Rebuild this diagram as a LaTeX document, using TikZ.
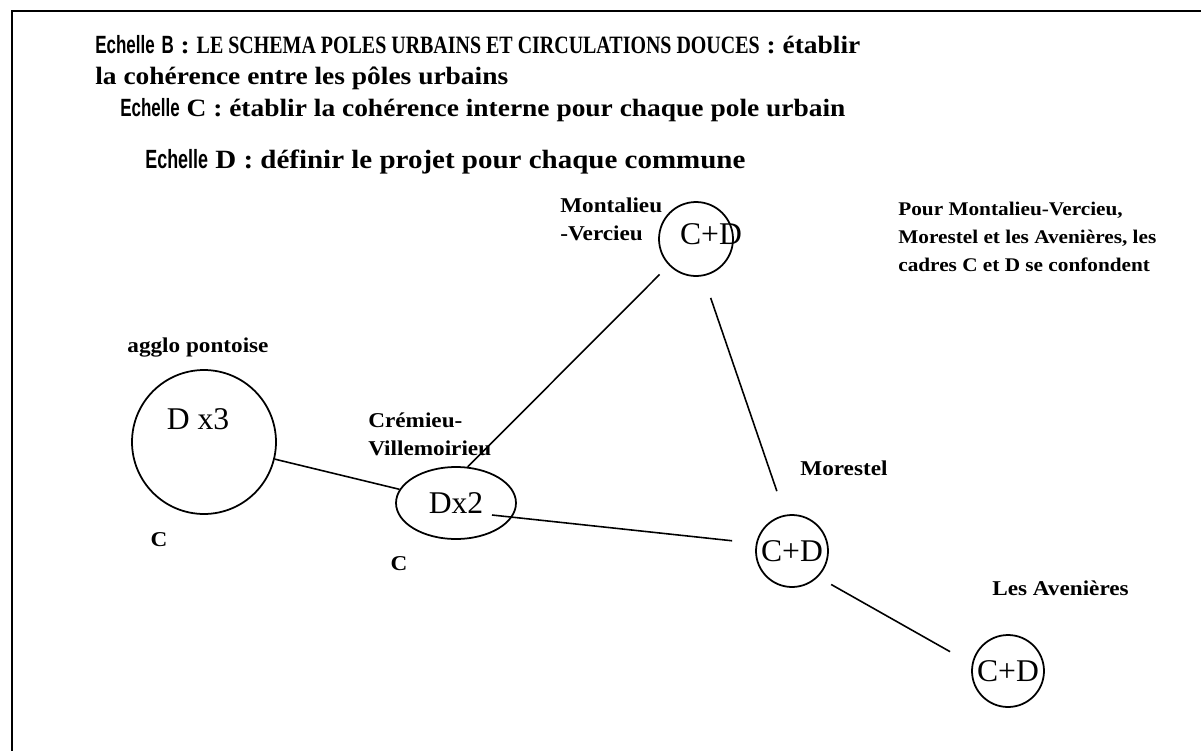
\documentclass[tikz,border=0pt]{standalone}
\usepackage{fontspec}
\setmainfont{Liberation Serif}[FakeStretch=1.1]
\newfontfamily\narrowsf{Liberation Sans}[FakeStretch=0.68, UprightFont=* Bold, BoldFont=* Bold]
\newfontfamily\capsfont{Liberation Serif}[FakeStretch=0.8, UprightFont=* Bold, BoldFont=* Bold]
\newfontfamily\plainfont{Liberation Serif}
\usetikzlibrary{calc, shapes.geometric}
\newcommand{\echelle}{{\narrowsf Echelle}}
\tikzset{
  head/.style={anchor=west, inner sep=0pt, font=\fontsize{14.2}{17}\selectfont\bfseries},
  % cercle d'un pole urbain
  pole/.style={circle, draw, line width=1pt, inner sep=0pt, font=\plainfont\fontsize{18}{20}\selectfont},
  big/.style={inner sep=0pt, font=\plainfont\fontsize{18}{20}\selectfont},
  lbl/.style={inner sep=0pt, align=left, font=\fontsize{12}{16}\selectfont\bfseries},
  lien/.style={line width=0.9pt}
}

\begin{document}
\begin{tikzpicture}[x=0.02cm, y=-0.02cm]
  \useasboundingbox (0,0) rectangle (1201,751);
  \draw[line width=1.3pt] (1201,11) -- (12,11) -- (12,751);

  % titres
  \node[head] (titleB)  at (95,45)  {\echelle{} {\narrowsf B} : {\capsfont LE SCHEMA POLES URBAINS ET CIRCULATIONS DOUCES} : établir};
  \node[head] (titleB2) at (95,78)  {la cohérence entre les pôles urbains};
  \node[head] (titleC)  at (120,110) {\echelle{} C : établir la cohérence interne pour chaque pole urbain};
  \node[head, font=\fontsize{15}{18}\selectfont\bfseries] (titleD) at (145,162) {\echelle{} D : définir le projet pour chaque commune};

  % poles
  \node[pole, minimum size=2.88cm] (agglo) at (204,442) {};
  \node[big] (aggloTxt) at (198,419) {D x3};
  \node[pole, ellipse, minimum width=2.4cm, minimum height=1.44cm] (cremieu) at (456,503) {Dx2};
  \node[pole, minimum size=1.48cm] (montalieu) at (696,239) {};
  \node[big] (montalieuTxt) at (711,234) {C+D};
  \node[pole, minimum size=1.44cm] (morestel) at (792,551) {C+D};
  \node[pole, minimum size=1.44cm] (avenieres) at (1008,671) {C+D};

  % noms
  \node[lbl] (lAgglo) at (198,348) {agglo pontoise};
  \node[lbl] (cAgglo) at (159,540) {C};
  \node[lbl, anchor=west] (lCremieu) at (368,434) {Crémieu-\\Villemoirieu};
  \node[lbl] (cCremieu) at (399,564) {C};
  \node[lbl, anchor=west] (lMontalieu) at (560,219) {Montalieu\\-Vercieu};
  \node[lbl, anchor=west, font=\fontsize{11}{16}\selectfont\bfseries] (note) at (898,237) {Pour Montalieu-Vercieu,\\Morestel et les Avenières, les\\cadres C et D se confondent};
  \node[lbl, anchor=west] (lMorestel) at (800,468) {Morestel};
  \node[lbl, anchor=west] (lAvenieres) at (992,588) {Les Avenières};

  % liaisons
  \draw[lien] (agglo) -- (cremieu);
  \draw[lien, shorten >=0.26cm] (cremieu.72) -- (montalieu.224);
  \draw[lien, shorten <=0.46cm, shorten >=0.5cm] (montalieu.281) -- (morestel.101);
  \draw[lien, shorten >=0.48cm] ($(cremieu.center)+(36,12)$) -- (morestel.168);
  \draw[lien, shorten <=0.3cm, shorten >=0.5cm] (morestel.315) -- (avenieres.169);
\end{tikzpicture}
\end{document}
